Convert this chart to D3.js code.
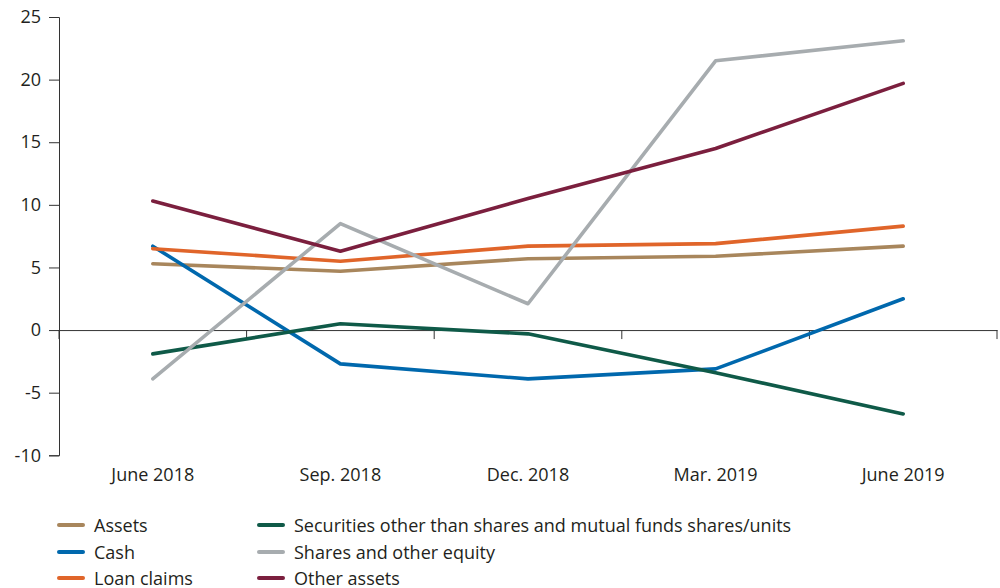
<!DOCTYPE html>
<html><head><meta charset="utf-8">
<script src="https://cdn.jsdelivr.net/npm/d3@7"></script>
<style>body{margin:0;background:#fff}svg{display:block}text{font-family:"Open Sans",sans-serif;fill:#231f20}</style>
</head><body><svg id="c" width="1000" height="588"></svg>
<script>
const categories = ["June 2018","Sep. 2018","Dec. 2018","Mar. 2019","June 2019"];
const yTicks = [-10,-5,0,5,10,15,20,25];
const seriesNames = ["Assets","Cash","Loan claims","Securities other than shares and mutual funds shares/units","Shares and other equity","Other assets"];
const seriesColors = ["#a8865c","#0068ad","#e0652a","#0f5a48","#a7acaf","#7b1f3e"];
const assets = [5.3,4.7,5.7,5.9,6.7];
const cash = [6.7,-2.7,-3.9,-3.1,2.5];
const loanClaims = [6.5,5.5,6.7,6.9,8.3];
const securities = [-1.9,0.5,-0.3,-3.4,-6.7];
const shares = [-3.9,8.5,2.1,21.5,23.1];
const otherAssets = [10.3,6.3,10.5,14.5,19.7];
const seriesValues = [assets,cash,loanClaims,securities,shares,otherAssets];

const FONT = "'Open Sans', sans-serif";
const svg = d3.select("#c");
const x = d3.scaleBand().domain(categories).range([59,997]);
const y = d3.scaleLinear().domain([-10,25]).range([455.3,17]);

// y axis
const yg = svg.append("g").attr("transform","translate(59,0)")
  .call(d3.axisLeft(y).tickValues(yTicks).tickSize(10).tickPadding(8).tickFormat(d=>String(d)));
yg.select(".domain").attr("stroke","#333").attr("stroke-width",1);
yg.selectAll(".tick line").attr("stroke","#333");
yg.selectAll(".tick text").attr("font-size",18).attr("font-family",FONT).attr("fill","#231f20");

// x axis at zero
const xg = svg.append("g").attr("transform",`translate(0,${y(0)})`)
  .call(d3.axisBottom(x).tickSize(0).tickFormat(""));
xg.select(".domain").attr("stroke","#333").attr("stroke-width",1);
const bounds = categories.map(c=>x(c)).concat([x.range()[1]]);
xg.selectAll(".bt").data(bounds).enter().append("line")
  .attr("x1",d=>d).attr("x2",d=>d).attr("y1",0).attr("y2",9).attr("stroke","#333");

// category labels
svg.append("g").selectAll("text").data(categories).enter().append("text")
  .attr("x",d=>x(d)+x.bandwidth()/2).attr("y",481).attr("text-anchor","middle")
  .attr("font-size",18).text(d=>d);

// lines
const line = d3.line().x((d,i)=>x(categories[i])+x.bandwidth()/2).y(d=>y(d));
svg.append("g").selectAll("path").data(seriesValues).enter().append("path")
  .attr("d",line).attr("fill","none").attr("stroke",(d,i)=>seriesColors[i])
  .attr("stroke-width",3.6).attr("stroke-linejoin","round").attr("stroke-linecap","round");

// legend
const legPos = [[59,525],[59,552],[59,578],[259,525],[259,552],[259,578]];
const lg = svg.append("g").selectAll("g").data(seriesNames).enter().append("g")
  .attr("transform",(d,i)=>`translate(${legPos[i][0]},${legPos[i][1]})`);
lg.append("line").attr("x1",0).attr("x2",24).attr("y1",0).attr("y2",0)
  .attr("stroke",(d,i)=>seriesColors[i]).attr("stroke-width",4).attr("stroke-linecap","round");
lg.append("text").attr("x",35).attr("y",6.5).attr("font-size",18).text(d=>d);
</script></body></html>
